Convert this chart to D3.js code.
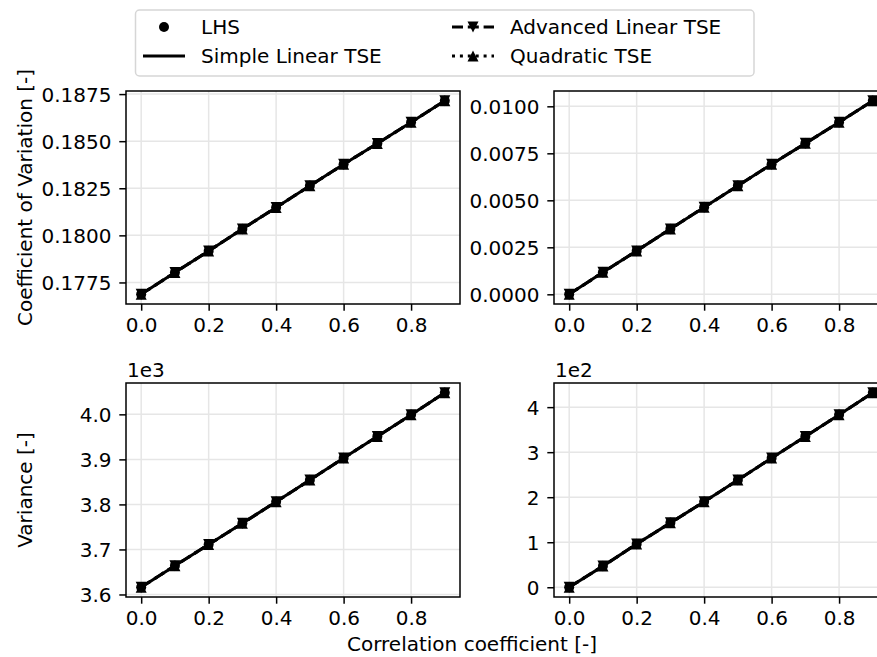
<!DOCTYPE html>
<html>
<head>
<meta charset="utf-8">
<script src="https://cdn.jsdelivr.net/npm/d3@7"></script>
<style>
	body { margin: 0; background: #fff; }
	svg { display: block; font-family: "DejaVu Sans", sans-serif; }
</style>
</head>
<body>
<svg id="plot" width="877" height="657"></svg>
<script>
// correlation coefficient (x values of every panel)
const RHO = [0.0, 0.1, 0.2, 0.3, 0.4, 0.5, 0.6, 0.7, 0.8, 0.9];

// values; the four methods sit on top of each other
const CV_A = [0.17687, 0.17803, 0.17917, 0.18034, 0.18148, 0.18263, 0.18377, 0.18488, 0.18600, 0.18715];
const CV_B = [0.00000, 0.00117, 0.00231, 0.00348, 0.00463, 0.00578, 0.00692, 0.00803, 0.00915, 0.01030];
const VAR_A = [3616, 3664, 3711, 3758, 3806, 3854, 3903, 3951, 3999, 4048];
const VAR_B = [0, 47, 96, 143, 190, 238, 287, 335, 383, 432];

const METHODS = ['LHS', 'Simple Linear TSE', 'Advanced Linear TSE', 'Quadratic TSE'];

const X_TICKS = [0.0, 0.2, 0.4, 0.6, 0.8];
const Y_TICKS_CV_A = [0.1775, 0.1800, 0.1825, 0.1850, 0.1875];
const Y_TICKS_CV_B = [0.0000, 0.0025, 0.0050, 0.0075, 0.0100];
const Y_TICKS_VAR_A = [3600, 3700, 3800, 3900, 4000];
const Y_TICKS_VAR_B = [0, 100, 200, 300, 400];

const FS = 20;
const LW = 3;
const TICK = 6.7;  // 3.5pt at 137 dpi
const FONT = '"DejaVu Sans", sans-serif';

const svg = d3.select('#plot');

const panels = [
	{ x0: 126, y0: 91, w: 334, h: 213, values: CV_A, ticks: Y_TICKS_CV_A, fmt: d => d.toFixed(4), ylabel: 'Coefficient of Variation [-]' },
	{ x0: 554, y0: 91, w: 334, h: 213, values: CV_B, ticks: Y_TICKS_CV_B, fmt: d => d.toFixed(4) },
	{ x0: 126, y0: 383, w: 334, h: 214, values: VAR_A, ticks: Y_TICKS_VAR_A, fmt: d => (d / 1000).toFixed(1), offset: '1e3', ylabel: 'Variance [-]' },
	{ x0: 554, y0: 383, w: 334, h: 214, values: VAR_B, ticks: Y_TICKS_VAR_B, fmt: d => (d / 100).toFixed(0), offset: '1e2' }
];

// matplotlib style 5% margins
function padded(ext) {
	const m = (ext[1] - ext[0]) * 0.05;
	return [ext[0] - m, ext[1] + m];
}

function markerPath(kind, s) {
	if (kind === 'down') return `M0,${s}L${-s},${-s}L${s},${-s}Z`;
	return `M0,${-s}L${-s},${s}L${s},${s}Z`;
}

function dashFor(method) {
	if (method === 'Advanced Linear TSE') return '11,4.8';
	if (method === 'Quadratic TSE') return '3,4.9';
	return null;
}

function drawMarkers(g, pts, method) {
	if (method === 'LHS') {
		g.selectAll(null).data(pts).enter().append('circle')
			.attr('cx', d => d[0]).attr('cy', d => d[1])
			.attr('r', 5).attr('fill', '#000');
	}
	if (method === 'Advanced Linear TSE' || method === 'Quadratic TSE') {
		const kind = method === 'Advanced Linear TSE' ? 'down' : 'up';
		g.selectAll(null).data(pts).enter().append('path')
			.attr('transform', d => `translate(${d[0]},${d[1]})`)
			.attr('d', markerPath(kind, 5.5))
			.attr('fill', '#000');
	}
}

function drawLine(g, pts, method) {
	if (method === 'LHS') return;
	g.append('path')
		.attr('d', d3.line()(pts))
		.attr('fill', 'none')
		.attr('stroke', '#000')
		.attr('stroke-width', LW)
		.attr('stroke-dasharray', dashFor(method));
}

panels.forEach(p => {
	const x = d3.scaleLinear().domain(padded(d3.extent(RHO))).range([p.x0, p.x0 + p.w]);
	const y = d3.scaleLinear().domain(padded(d3.extent(p.values))).range([p.y0 + p.h, p.y0]);

	const g = svg.append('g');

	// grid
	g.append('g').selectAll('line').data(X_TICKS).enter().append('line')
		.attr('x1', d => x(d)).attr('x2', d => x(d))
		.attr('y1', p.y0).attr('y2', p.y0 + p.h)
		.attr('stroke', '#e6e6e6').attr('stroke-width', 1.5);
	g.append('g').selectAll('line').data(p.ticks).enter().append('line')
		.attr('x1', p.x0).attr('x2', p.x0 + p.w)
		.attr('y1', d => y(d)).attr('y2', d => y(d))
		.attr('stroke', '#e6e6e6').attr('stroke-width', 1.5);

	// data
	const pts = RHO.map((r, i) => [x(r), y(p.values[i])]);
	METHODS.forEach(m => drawLine(g, pts, m));
	METHODS.forEach(m => drawMarkers(g, pts, m));

	// axes
	const xa = g.append('g')
		.attr('transform', `translate(0,${p.y0 + p.h})`)
		.call(d3.axisBottom(x).tickValues(X_TICKS).tickFormat(d3.format('.1f'))
			.tickSizeInner(TICK).tickSizeOuter(0).tickPadding(TICK))
		.attr('font-size', FS).attr('font-family', FONT);
	xa.select('.domain').remove();
	xa.selectAll('.tick line').attr('stroke', '#000').attr('stroke-width', 1.5);
	xa.selectAll('.tick text').attr('fill', '#000').attr('y', 28).attr('dy', 0);

	const ya = g.append('g')
		.attr('transform', `translate(${p.x0},0)`)
		.call(d3.axisLeft(y).tickValues(p.ticks).tickFormat(p.fmt)
			.tickSizeInner(TICK).tickSizeOuter(0).tickPadding(TICK))
		.attr('font-size', FS).attr('font-family', FONT);
	ya.select('.domain').remove();
	ya.selectAll('.tick line').attr('stroke', '#000').attr('stroke-width', 1.5);
	ya.selectAll('.tick text').attr('fill', '#000').attr('x', -14.5).attr('dy', '0.36em');

	// spines
	g.append('rect')
		.attr('x', p.x0).attr('y', p.y0).attr('width', p.w).attr('height', p.h)
		.attr('fill', 'none').attr('stroke', '#000').attr('stroke-width', 1.5);

	if (p.offset) {
		g.append('text').text(p.offset)
			.attr('x', p.x0 + 1).attr('y', p.y0 - 6)
			.attr('font-size', FS);
	}
	if (p.ylabel) {
		g.append('text').text(p.ylabel)
			.attr('transform', `translate(32,${p.y0 + p.h / 2}) rotate(-90)`)
			.attr('text-anchor', 'middle')
			.attr('font-size', FS);
	}
});

svg.append('text').text('Correlation coefficient [-]')
	.attr('x', 347).attr('y', 651)
	.attr('font-size', FS);

// legend
const legend = svg.append('g');
legend.append('rect')
	.attr('x', 135.5).attr('y', 10).attr('width', 618.5).attr('height', 66)
	.attr('rx', 4).attr('fill', '#fff').attr('fill-opacity', 0.8)
	.attr('stroke', '#d6d6d6').attr('stroke-width', 1.5);

const legendPos = [[143, 27], [143, 56], [452, 27], [452, 56]];
METHODS.forEach((m, i) => {
	const [lx, ly] = legendPos[i];
	const lg = legend.append('g');
	drawLine(lg, [[lx, ly], [lx + 42, ly]], m);
	drawMarkers(lg, [[lx + 21, ly]], m);
	lg.append('text').text(m)
		.attr('x', lx + 58).attr('y', ly).attr('dy', '0.36em')
		.attr('font-size', FS);
});
</script>
</body>
</html>
